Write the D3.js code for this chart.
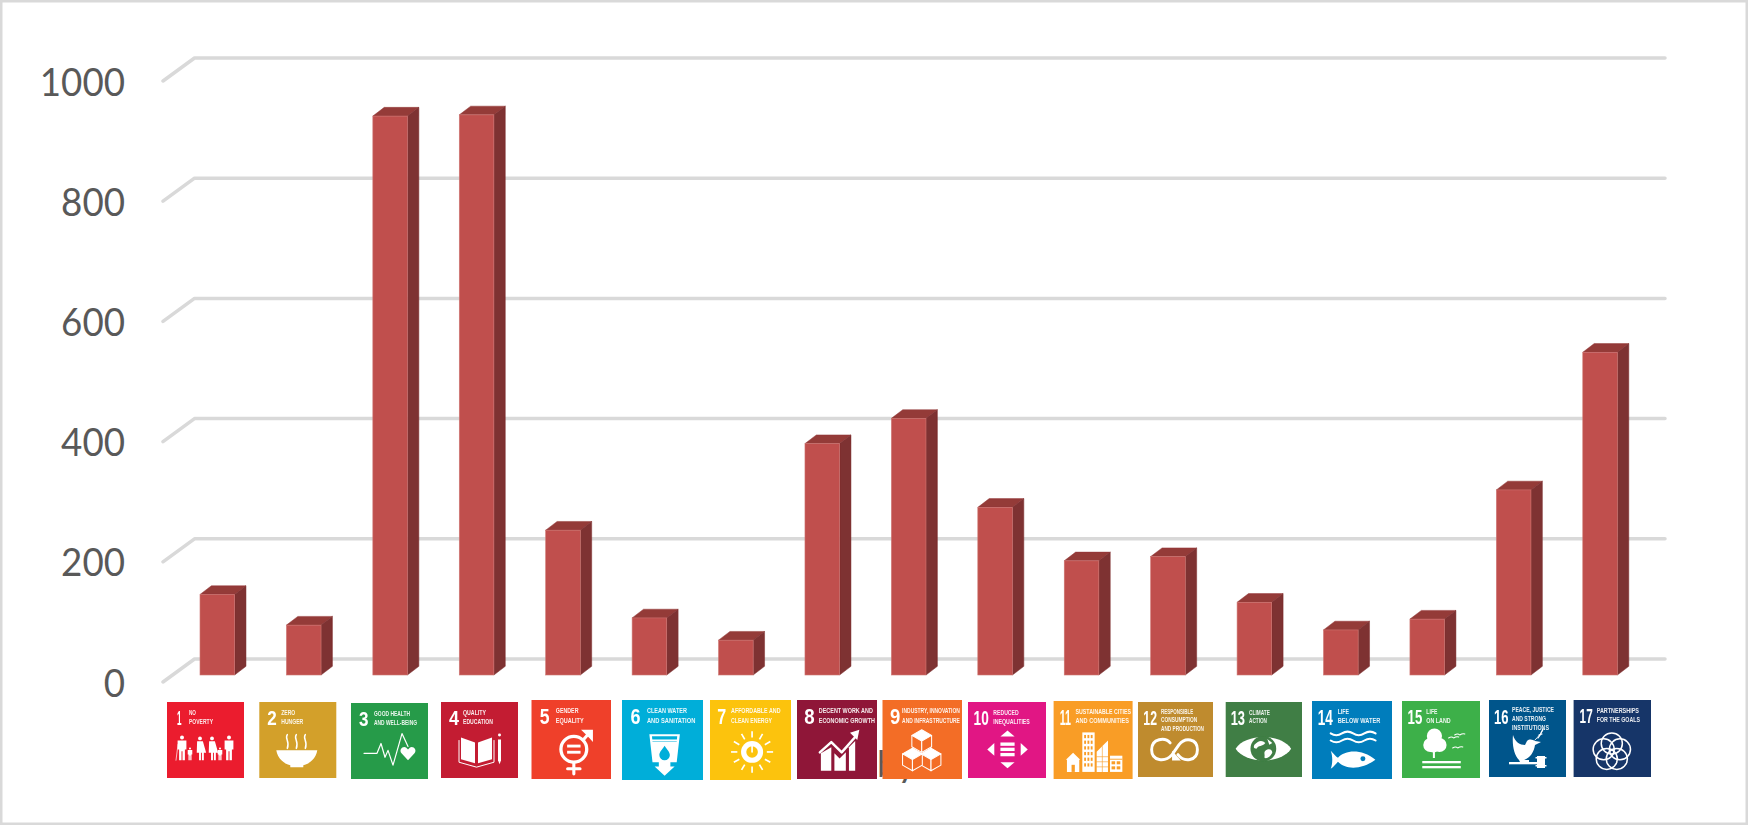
<!DOCTYPE html>
<html>
<head>
<meta charset="utf-8">
<script src="https://cdnjs.cloudflare.com/ajax/libs/d3/7.8.5/d3.min.js"></script>
<style>
html,body{margin:0;padding:0;background:#fff;overflow:hidden}
svg{display:block}
.tick text{font-family:Lato,'Open Sans',sans-serif}
.tile text{font-family:'Liberation Sans Narrow','Liberation Sans',sans-serif;fill:#fff}
</style>
</head>
<body>
<svg id="chart" width="1748" height="826"></svg>
<script>
// ---------- data ----------
const goals = [1,2,3,4,5,6,7,8,9,10,11,12,13,14,15,16,17];
const counts = [134,83,930,932,241,95,58,385,427,279,190,197,121,75,93,308,537];
const yTicks = [0,200,400,600,800,1000];
const tileLabels = [
  ["NO","POVERTY"],["ZERO","HUNGER"],["GOOD HEALTH","AND WELL-BEING"],["QUALITY","EDUCATION"],
  ["GENDER","EQUALITY"],["CLEAN WATER","AND SANITATION"],["AFFORDABLE AND","CLEAN ENERGY"],
  ["DECENT WORK AND","ECONOMIC GROWTH"],["INDUSTRY, INNOVATION","AND INFRASTRUCTURE"],
  ["REDUCED","INEQUALITIES"],["SUSTAINABLE CITIES","AND COMMUNITIES"],
  ["RESPONSIBLE","CONSUMPTION","AND PRODUCTION"],["CLIMATE","ACTION"],["LIFE","BELOW WATER"],
  ["LIFE","ON LAND"],["PEACE, JUSTICE","AND STRONG","INSTITUTIONS"],["PARTNERSHIPS","FOR THE GOALS"]
];
const hiddenAxisText = "by";

// ---------- styling and tile layout (the icons are pasted by hand in the original) ----------
const tileColors = ["#EB1C2D","#D3A029","#279B48","#C31F33","#EF402B","#00AED9","#FCC30B","#8F1838","#F36D25","#E11484","#F99D26","#BF8B2E","#3F7E44","#007DBC","#3EB049","#02558B","#183668"];
const tileBoxes = [[167,702,77,76],[259.3,702,77,76],[351,703,77,76],[441,702,77,76],[531.5,700,79.5,79],[622,700,81,80],[710,700,81,80],[797,700,80,79],[882.5,700,79.5,79],[968,702,78,76],[1053.6,701,79,78],[1138,702,75,75],[1225.7,702,76.3,75],[1312,701,80,78],[1402,701,78,77],[1489,700,77,77],[1573.6,700,77.4,77]];
const labelOffsets = [22,22,23,22,23.5,23.7,20,21,19,25,21.4,23.7,23.6,24.7,24,23,23];
const labelWidths = [[7,24],[14,22],[36,43],[23,30],[22,27],[38,46],[47,39],[52,54],[56,56],[25,36],[54,52],[33,37,44],[21,18],[11,41],[11,24],[42,34,37],[42,43]];
const numberX = [10,8,8,8,8,8,7,7,7.3,5.5,6,5.5,5,5.5,5.5,5,6];
const numberW = [4.5,9.5,9.5,10,9.5,9.5,8.5,10,10,15,11,14,14.5,14.5,14.5,14.5,13];
const BAR_FRONT="#C0504D", BAR_TOP="#943A38", BAR_SIDE="#7E3030", BAR_EDGE="#CE7673", GRID="#D9D9D9", INK="#595959";
const DEPTH_X=11.4, DEPTH_Y=8.7;

const svg = d3.select("#chart");
const defs = svg.append("defs");
defs.append("filter").attr("id","soft").append("feGaussianBlur").attr("stdDeviation",0.4);
defs.append("filter").attr("id","softer").append("feGaussianBlur").attr("stdDeviation",0.3);

svg.append("rect").attr("x",1.25).attr("y",1.25).attr("width",1745.5).attr("height",822.5)
  .attr("fill","#fff").attr("stroke",GRID).attr("stroke-width",2.5);

const x = d3.scaleBand().domain(goals).range([200,1617.4]).paddingInner(0.5995).paddingOuter(0);
const y = d3.scaleLinear().domain([0,1000]).range([675,74]);

// gridlines with the 3D floor/wall fold
svg.append("g").selectAll("path").data(yTicks).join("path")
  .attr("d",v=>d3.line()([[163,y(v)+7],[194.5,y(v)-16],[1665,y(v)-16]]))
  .attr("fill","none").attr("stroke",GRID).attr("stroke-width",3.5)
  .attr("stroke-linecap","round").attr("stroke-linejoin","round");

// value axis
const axis = d3.axisLeft(y).tickValues(yTicks).tickSize(0).tickPadding(0).tickFormat(d3.format("d"));
const ga = svg.append("g").attr("transform","translate(125,7)").call(axis);
ga.select(".domain").remove();
ga.selectAll("text").attr("font-size",39).attr("fill",INK).attr("dy","0.36em")
  .attr("textLength",d=>String(d).length*21.3).attr("lengthAdjust","spacingAndGlyphs");

// bars
const bars = svg.append("g").attr("filter","url(#softer)").selectAll("g").data(goals.map((g,i)=>({g,v:counts[i]}))).join("g");
const bw = x.bandwidth();
bars.append("path").attr("fill",BAR_TOP).attr("stroke",BAR_TOP).attr("stroke-width",0.5)
  .attr("d",d=>{const l=x(d.g),t=y(d.v);return d3.line()([[l,t],[l+DEPTH_X,t-DEPTH_Y],[l+bw+DEPTH_X,t-DEPTH_Y],[l+bw,t]])+"Z";});
bars.append("path").attr("fill",BAR_SIDE).attr("stroke",BAR_SIDE).attr("stroke-width",0.5)
  .attr("d",d=>{const r=x(d.g)+bw,t=y(d.v),b=y(0);return d3.line()([[r,t],[r+DEPTH_X,t-DEPTH_Y],[r+DEPTH_X,b-DEPTH_Y],[r,b]])+"Z";});
bars.append("rect").attr("x",d=>x(d.g)).attr("y",d=>y(d.v)).attr("width",bw).attr("height",d=>y(0)-y(d.v))
  .attr("fill",BAR_FRONT).attr("stroke",BAR_EDGE).attr("stroke-width",0.6);

// fragment of an axis title that the tiles cover
svg.append("text").attr("x",877).attr("y",777).attr("font-family","Lato").attr("font-size",37)
  .attr("fill",INK).text(hiddenAxisText);

// ---------- icon helpers (77-unit tile space) ----------
const W="#fff";
function P(g,d,o={}){const p=g.append("path").attr("d",d).attr("fill",o.fill||W);
  if(o.stroke){p.attr("stroke",o.stroke).attr("stroke-width",o.sw||1.5).attr("stroke-linejoin","round").attr("stroke-linecap",o.cap||"round");}
  return p;}
const S=(g,d,sw,col)=>P(g,d,{fill:"none",stroke:col||W,sw});
const C=(g,cx,cy,r,fill)=>g.append("circle").attr("cx",cx).attr("cy",cy).attr("r",r).attr("fill",fill||W);
const R=(g,a,b,w,h,fill)=>g.append("rect").attr("x",a).attr("y",b).attr("width",w).attr("height",h).attr("fill",fill||W);
function man(g,cx,top,h){const u=h/25;C(g,cx,top+2*u,2*u);
  P(g,`M${cx-4.4*u} ${top+5*u}h${8.8*u}v${9*u}h${-1.5*u}v${11*u}h${-2.4*u}v${-9*u}h${-1*u}v${9*u}h${-2.4*u}v${-11*u}h${-1.5*u}z`);}
function woman(g,cx,top,h){const u=h/25;C(g,cx,top+2*u,2*u);
  P(g,`M${cx-3*u} ${top+5*u}h${6*u}l${3.4*u} ${12*u}h${-2.4*u}v${8*u}h${-2*u}v${-8*u}h${-1*u}v${8*u}h${-2*u}v${-8*u}h${-2.4*u}z`);}
function cube(g,cx,cy,r,col){const a=r*0.87,b=r*0.5;
  P(g,`M${cx} ${cy-r}L${cx+a} ${cy-b}L${cx} ${cy}L${cx-a} ${cy-b}Z`,{stroke:W,sw:1});
  P(g,`M${cx-a} ${cy-b}L${cx} ${cy}V${cy+r}L${cx-a} ${cy+b}Z`,{fill:col,stroke:W,sw:1});
  P(g,`M${cx+a} ${cy-b}L${cx} ${cy}V${cy+r}L${cx+a} ${cy+b}Z`,{fill:col,stroke:W,sw:1});}

const icons = [
 g=>{man(g,15,34,25);woman(g,33,35,24);woman(g,45,35,24);man(g,62,34,25);man(g,23,46,13);man(g,53,46,13);S(g,"M9 59L11 43",0.7);},
 g=>{P(g,"M17 49H58C57 57 50 63 44 64V66H31V64C25 63 18 57 17 49Z");
     [28,37,46].forEach(a=>S(g,`M${a} 33C${a-3} 37 ${a+3} 40 ${a} 47`,1.5));},
 (g,c)=>{S(g,"M13 51H26L30 41L34 55L37 48L42 63L51 31L57 44",1.2);
     P(g,"M57 58L50.5 51C47.5 47 52 43 55 45L57 47L59 45C62 43 66.5 47 63.5 51Z");},
 g=>{P(g,"M20 36L34 41V62L20 58Z");P(g,"M37 41L51 36V58L37 62Z");S(g,"M18 39V61L35.5 66L53 61V39",1);
     P(g,"M57 38H60V59L58.5 63L57 59Z");C(g,58.5,33.5,1.5);},
 (g,c)=>{g.append("circle").attr("cx",41).attr("cy",48).attr("r",12.5).attr("fill","none").attr("stroke",W).attr("stroke-width",3.2);
     S(g,"M50 39L57 31",3);P(g,"M48 29H59.5V41L56 37L52 33Z");
     S(g,"M41 61V72",3);S(g,"M35 67H47",3);R(g,34.5,43.5,13,2.8);R(g,34.5,49.5,13,2.8);},
 (g,c)=>{P(g,"M26 33H55L52 60H46V64H50L40.5 73L31 64H35V60H29Z");
     P(g,"M28.5 35H52.5L52 40H29Z",{fill:c});R(g,28,38,25,1.5,W);
     P(g,"M40.5 44C38 48 35.5 50 35.5 53A5 5 0 0 0 45.5 53C45.5 50 43 48 40.5 44Z",{fill:c});},
 (g,c)=>{d3.range(12).forEach(i=>{const a=i*Math.PI/6;
       g.append("line").attr("x1",40+14*Math.cos(a)).attr("y1",50+14*Math.sin(a)).attr("x2",40+20*Math.cos(a)).attr("y2",50+20*Math.sin(a)).attr("stroke",W).attr("stroke-width",1.6);});
     C(g,40,50,10.5);C(g,40,50,5.5,c);S(g,"M40 44V50",1.6);},
 g=>{P(g,"M23 52L33 46V69H23Z");P(g,"M36 52L41 57L47 51V69H36Z");P(g,"M50 46L56 40V69H50Z");
     S(g,"M22 51L33 41L43 51L56 36",2.4);P(g,"M51 32L60 29L58 39Z");},
 (g,c)=>{cube(g,47,58,11,c);cube(g,29,58,11,c);cube(g,38,40,11,c);},
 g=>{const a=39,b=48;P(g,`M${a} ${b-19}L${a+7} ${b-13}H${a-7}Z`);P(g,`M${a} ${b+19}L${a+7} ${b+13}H${a-7}Z`);
     P(g,`M${a-20} ${b}L${a-13} ${b-6.5}V${b+6.5}Z`);P(g,`M${a+20} ${b}L${a+13} ${b-6.5}V${b+6.5}Z`);
     [-7,-1.7,3.6].forEach(d=>R(g,a-7,b+d,14,3.4));},
 (g,c)=>{P(g,"M19 51L26 58H25V70H13V58H12Z");R(g,17.5,63,3.2,7,c);
     R(g,28,31,12,39);d3.range(6).forEach(r=>d3.range(3).forEach(k=>R(g,29.8+k*3.2,33.5+r*5.6,1.8,3.2,c)));
     P(g,"M42 70V50L53 39V70Z");S(g,"M42 60H53M42 65H53M42 55H53M47.5 45V70",0.6,c);
     R(g,55,54,12,16);R(g,55,57,12,.9,c);d3.range(2).forEach(r=>d3.range(2).forEach(k=>R(g,56.5+k*5,59.5+r*5,3.5,3,c)));},
 g=>{S(g,"M33 42C28 36 14 37 14 49C14 61 28 62 35 54L42 44C48 36 61 37 61 49C61 61 47 62 41 54",3);
     P(g,"M35 50V60H44Z");},
 (g,c)=>{P(g,"M10 48C20 32 56 32 66 48C56 64 20 64 10 48Z");C(g,38,48,13,c);
     P(g,"M29 44C33 39 37 39 40 42C37 46 33 44 31 48C28 48 28 46 29 44ZM40 50C44 47 47 49 47 52C45 56 41 59 39 57C40 54 38 52 40 50ZM42 38L47 42L44 44Z");},
 (g,c)=>{[32,39].forEach(v=>S(g,`M18 ${v}q5.4 3.5 10.8 0t10.8 0t10.8 0t10.8 0`,2));
     P(g,"M18 49C21 52 23 55 25 56C32 48 48 47 61 58C48 68 32 68 25 60C23 62 21 65 18 67C20 62 20 54 18 49Z");C(g,49,57,2.4,c);},
 g=>{C(g,28,44,7);C(g,32,35,7.5);C(g,37,44,7);C(g,31,45,6.5);R(g,30.5,46,2,11);R(g,20,60,38,2.3);R(g,20,65,38,2.3);
     [[46,36],[52,33],[50,46]].forEach(([a,b])=>S(g,`M${a} ${b+1}q3-2 5 0q3-2 5-1`,1));},
 (g,c)=>{P(g,"M24 35C26 42 31 45 36 45L38 41C41 38 44 40 46 41L52 42L46 45C45 52 41 58 35 60H40V62H31L30 60C25 55 23 45 24 35Z");
     S(g,"M46 40C50 36 52 33 54 30",0.9);S(g,"M49 38l3-4M50 35l3-1M52 33l2-4",1.2);
     R(g,20,62,34,2.3);R(g,48,56,8,12);R(g,46.5,57,11,1.5);R(g,46.5,65,11,1.5);},
 g=>{d3.range(5).forEach(i=>{const a=-Math.PI/2+i*2*Math.PI/5;
       g.append("circle").attr("cx",38+8.5*Math.cos(a)).attr("cy",52+8.5*Math.sin(a)).attr("r",10.5).attr("fill","none").attr("stroke",W).attr("stroke-width",1.5);});}
];

// ---------- SDG tiles in place of category labels ----------
const tiles = svg.append("g").selectAll("g").data(goals).join("g").attr("class","tile")
  .attr("filter","url(#soft)")
  .attr("transform",(d,i)=>{const b=tileBoxes[i];return `translate(${b[0]},${b[1]}) scale(${b[2]/77},${b[3]/77})`;});
tiles.append("rect").attr("width",77).attr("height",77).attr("fill",(d,i)=>tileColors[i]);
tiles.each(function(d,i){
  const g=d3.select(this);
  g.append("text").attr("x",numberX[i]).attr("y",23.5).attr("font-size",21).attr("font-weight",700).text(d)
    .attr("textLength",numberW[i]).attr("lengthAdjust","spacingAndGlyphs");
  tileLabels[i].forEach((s,k)=>{
    g.append("text").attr("x",labelOffsets[i]).attr("y",(tileLabels[i].length===3?12:13)+k*9)
      .attr("font-size",7.6).attr("font-weight",700).attr("fill-opacity",0.9)
      .attr("textLength",labelWidths[i][k]).attr("lengthAdjust","spacingAndGlyphs").text(s);
  });
  icons[i](g.append("g"),tileColors[i]);
});
</script>
</body>
</html>
